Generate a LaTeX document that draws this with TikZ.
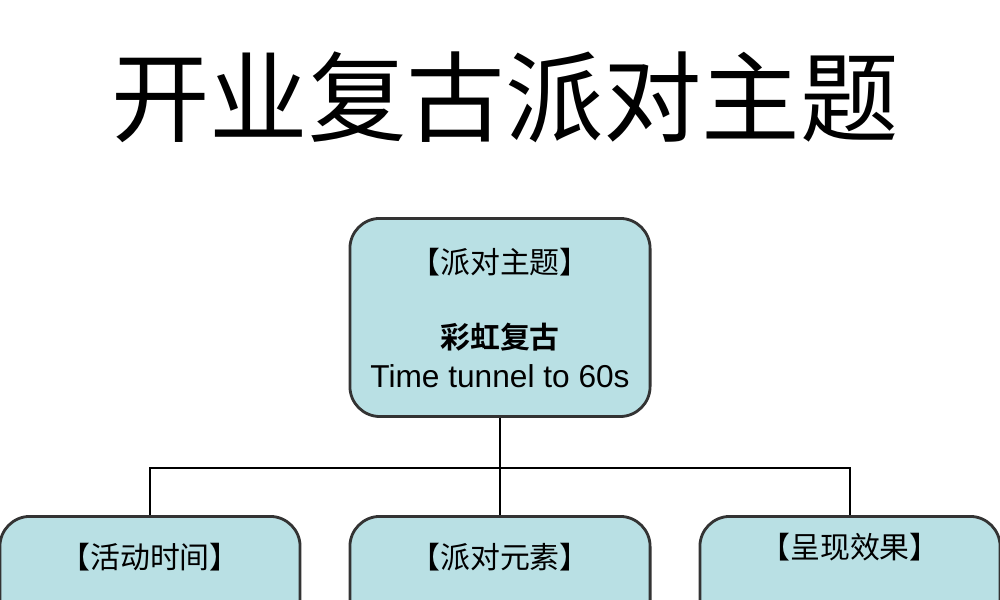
\documentclass[tikz,border=0pt]{standalone}
\usepackage{fontspec}
\setmainfont{Liberation Sans}
\newfontfamily\cjk{Noto Sans CJK SC}
\newfontfamily\cjkbold{Noto Sans CJK SC Bold}
\usetikzlibrary{positioning}
\definecolor{boxcyan}{RGB}{185,224,228}
\tikzset{
  partybox/.style={draw=black!80, fill=boxcyan, rounded corners=0.3cm, thick,
    minimum width=3cm, anchor=north},
  boxlabel/.style={font=\cjk\fontsize{8.5}{10}\selectfont},
}
\begin{document}
\begin{tikzpicture}[x=0.01cm,y=-0.01cm]
  \useasboundingbox (0,0) rectangle (1000,600);
  \clip (0,0) rectangle (1000,600);

  % title
  \node (title) at (505,97) {\cjk\fontsize{28}{30}\selectfont 开业复古派对主题};

  % top box
  \node[partybox, minimum height=1.98cm] (theme) at (500,217) {};
  \node[boxlabel] (themelbl) at (500,262) {【派对主题】};
  \node[font=\cjkbold\fontsize{8.5}{10}\selectfont] (themename) at (500,337) {彩虹复古};
  \node[font=\fontsize{9}{10}\selectfont] (themeen) at (500,376) {Time tunnel to 60s};

  % lower boxes (run past the bottom edge)
  \node[partybox, minimum height=2cm] (time) at (150,515) {};
  \node[partybox, minimum height=2cm] (items) at (500,515) {};
  \node[partybox, minimum height=2cm] (effect) at (850,515) {};
  \node[boxlabel] (timelbl) at (150,557) {【活动时间】};
  \node[boxlabel] (itemslbl) at (500,557) {【派对元素】};
  \node[boxlabel] (effectlbl) at (850,547) {【呈现效果】};

  % connectors
  \draw[thick] (theme.south) -- ++(0,50) coordinate (branch);
  \draw[thick] (branch) -| (time.north);
  \draw[thick] (branch) -| (effect.north);
  \draw[thick] (branch) -- (items.north);
\end{tikzpicture}
\end{document}
